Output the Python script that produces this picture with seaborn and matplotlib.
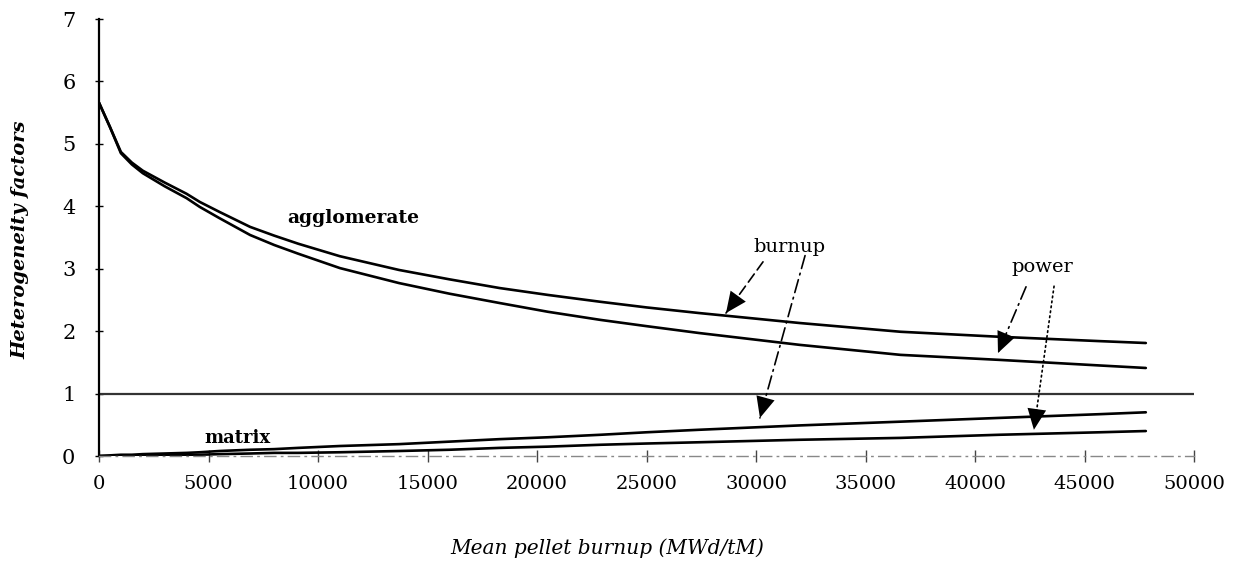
import matplotlib
matplotlib.use("Agg")
import matplotlib.pyplot as plt
import seaborn as sns
import pandas as pd
import numpy as np

# ---- data ----
burnup = [0, 500, 1000, 1500, 2000, 3000, 4000, 4600, 5500, 6900, 8000, 9100,
          11000, 13700, 16000, 18300, 20500, 22900, 25000, 27400, 32000,
          36600, 41100, 45700, 47800]
agglomerate_burnup = [5.66, 5.27, 4.87, 4.70, 4.57, 4.38, 4.20, 4.07, 3.91, 3.67,
                      3.53, 3.40, 3.20, 2.98, 2.83, 2.69, 2.58, 2.47, 2.38,
                      2.29, 2.13, 1.99, 1.91, 1.84, 1.81]
agglomerate_power = [5.66, 5.27, 4.85, 4.67, 4.53, 4.32, 4.13, 3.99, 3.81, 3.54,
                     3.38, 3.24, 3.01, 2.77, 2.60, 2.45, 2.31, 2.18, 2.08,
                     1.97, 1.78, 1.62, 1.54, 1.45, 1.41]
matrix_burnup = [0.00, 0.01, 0.02, 0.02, 0.03, 0.04, 0.05, 0.06, 0.08, 0.10,
                 0.11, 0.13, 0.16, 0.19, 0.23, 0.27, 0.30, 0.34, 0.38,
                 0.42, 0.49, 0.55, 0.61, 0.67, 0.70]
matrix_power = [0.00, 0.00, 0.01, 0.01, 0.01, 0.02, 0.02, 0.02, 0.03, 0.04,
                0.05, 0.05, 0.06, 0.08, 0.10, 0.13, 0.15, 0.18, 0.20,
                0.22, 0.26, 0.29, 0.34, 0.38, 0.40]
unity_x = [0, 50000]
unity_y = [1, 1]

x_ticks = [0, 5000, 10000, 15000, 20000, 25000, 30000, 35000, 40000, 45000, 50000]
y_ticks = [0, 1, 2, 3, 4, 5, 6, 7]

sns.set_theme(style="white")
plt.rcParams['font.family'] = ['DejaVu Serif', 'DejaVu Sans']
plt.rcParams['text.color'] = 'black'
plt.rcParams['xtick.color'] = 'black'
plt.rcParams['ytick.color'] = 'black'
plt.rcParams['axes.labelcolor'] = 'black'

df = pd.DataFrame({
    "x": burnup * 4,
    "y": agglomerate_burnup + agglomerate_power + matrix_burnup + matrix_power,
    "series": (["agg_burnup"] * len(burnup) + ["agg_power"] * len(burnup)
               + ["mat_burnup"] * len(burnup) + ["mat_power"] * len(burnup)),
})

fig = plt.figure(figsize=(12.4, 5.61), dpi=100)
ax = fig.add_axes([99 / 1240, 1 - 456 / 561, (1194 - 99) / 1240, (456 - 19) / 561])

sns.lineplot(data=df, x="x", y="y", units="series", estimator=None,
             color="black", linewidth=1.9, ax=ax, legend=False)
sns.lineplot(x=unity_x, y=unity_y, color="#333333", linewidth=1.6, ax=ax)

ax.set_xlim(0, 50000)
ax.set_ylim(0, 7)
ax.set_xticks(x_ticks)
ax.set_xticklabels([str(v) for v in x_ticks])
ax.set_yticks(y_ticks)
ax.set_yticklabels([str(v) for v in y_ticks])

for s in ["top", "right"]:
    ax.spines[s].set_visible(False)
ax.spines["left"].set_color("black")
ax.spines["left"].set_linewidth(1.6)
ax.spines["bottom"].set_color("#888888")
ax.spines["bottom"].set_linewidth(1.0)
ax.spines["bottom"].set_linestyle((0, (8, 4, 1, 4)))

ax.tick_params(axis="x", direction="inout", length=8, width=1, color="#444444",
               labelsize=14, pad=10, bottom=True)
ax.tick_params(axis="y", direction="inout", length=6, width=1, color="black",
               labelsize=15, pad=14, left=True)

ax.set_xlabel("")
ax.set_ylabel("")
fig.text(607 / 1240, 1 - 548 / 561, "Mean pellet burnup (MWd/tM)", ha="center",
         va="center", fontsize=14.5, style="italic")
fig.text(20 / 1240, 1 - 240 / 561, "Heterogeneity factors", ha="center",
         va="center", fontsize=14, style="italic", weight="bold", rotation=90)

ax.text(11600, 3.81, "agglomerate", ha="center", va="center", fontsize=13.5,
        weight="bold")
ax.text(6300, 0.29, "matrix", ha="center", va="center", fontsize=13, weight="bold")
ax.text(31550, 3.35, "burnup", ha="center", va="center", fontsize=14)
ax.text(43060, 3.03, "power", ha="center", va="center", fontsize=14)

arrows = [
    ((30320, 3.11), (28630, 2.29), (0, (6, 3))),
    ((32240, 3.21), (30180, 0.61), (0, (8, 3, 1, 3))),
    ((42330, 2.71), (41050, 1.65), (0, (8, 3, 1, 3))),
    ((43610, 2.72), (42690, 0.42), (0, (1, 2))),
]
for tail, tip, ls in arrows:
    # dashed shaft
    ax.annotate("", xy=tip, xytext=tail,
                arrowprops=dict(arrowstyle="-", linestyle=ls, color="black",
                                lw=1.2, shrinkA=0, shrinkB=0))
    # solid head
    ax.annotate("", xy=tip, xytext=tail,
                arrowprops=dict(arrowstyle="-|>,head_length=1.0,head_width=0.45",
                                linestyle="-", color="black", lw=0.0,
                                shrinkA=0, shrinkB=0, mutation_scale=15,
                                alpha=1))

fig.savefig("out.png", dpi=100)
